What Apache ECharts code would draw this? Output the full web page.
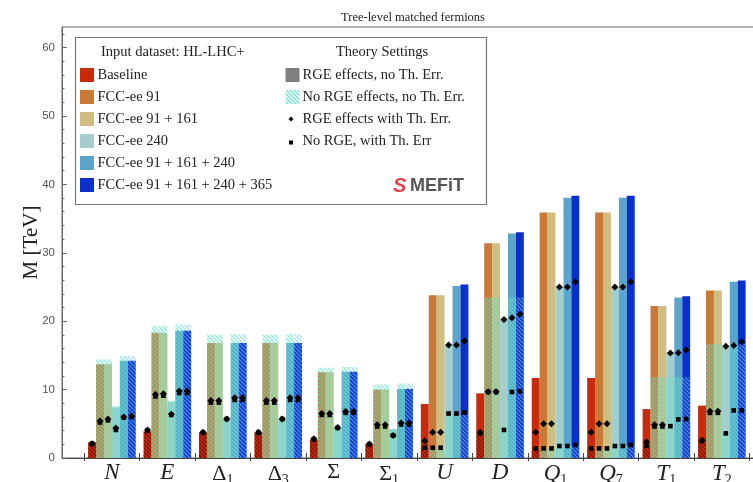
<!DOCTYPE html>
<html>
<head>
<meta charset="utf-8">
<script src="https://cdn.jsdelivr.net/npm/echarts@6/dist/echarts.min.js"></script>
<style>
  html, body { margin: 0; padding: 0; background: #ffffff; }
  #chart { width: 753px; height: 482px; }
</style>
</head>
<body>
<div id="chart"></div>
<script>
// Operators (x categories)
const categories = ['N', 'E', 'Δ1', 'Δ3', 'Σ', 'Σ1', 'U', 'D', 'Q1', 'Q7', 'T1', 'T2'];
const datasetNames = ['Baseline', 'FCC-ee 91', 'FCC-ee 91 + 161', 'FCC-ee 240', 'FCC-ee 91 + 161 + 240', 'FCC-ee 91 + 161 + 240 + 365'];
const datasetColors = ['#c92a0c', '#c97a36', '#cfbe82', '#a4cdcd', '#5aa5cb', '#0a2fcb'];
const yTicks = [0, 10, 20, 30, 40, 50, 60];

// RGE effects, no Th. Err. (solid bars) [TeV]
const rgeBaseline = [2.3, 3.9, 3.75, 3.75, 2.7, 2.05, 7.9, 9.45, 11.7, 11.7, 7.15, 7.65];
const rgeFcc91 = [13.7, 18.3, 16.8, 16.8, 12.55, 10.0, 23.8, 31.4, 35.9, 35.9, 22.2, 24.5];
const rgeFcc91161 = [13.7, 18.3, 16.8, 16.8, 12.55, 10.0, 23.8, 31.4, 35.9, 35.9, 22.2, 24.5];
const rgeFcc240 = [7.4, 8.2, 5.8, 5.8, 4.5, 4.2, 16.6, 20.25, 25.0, 25.0, 15.4, 16.35];
const rgeFcc91161240 = [14.2, 18.6, 16.8, 16.8, 12.6, 10.1, 25.15, 32.8, 38.05, 38.05, 23.45, 25.75];
const rgeFccAll = [14.2, 18.6, 16.8, 16.8, 12.6, 10.1, 25.35, 33.0, 38.35, 38.35, 23.65, 25.95];

// No RGE effects, no Th. Err. (hatched bars) [TeV]
const noRgeBaseline = [2.3, 3.9, 3.75, 3.75, 2.7, 2.05, 1.5, 3.6, 1.4, 1.4, 1.65, 2.4];
const noRgeFcc91 = [14.4, 19.3, 18.0, 18.0, 13.2, 10.75, 1.3, 23.45, 1.4, 1.4, 11.8, 16.65];
const noRgeFcc91161 = [14.4, 19.3, 18.0, 18.0, 13.2, 10.75, 1.3, 23.45, 1.4, 1.4, 11.8, 16.65];
const noRgeFcc240 = [7.6, 8.4, 5.8, 5.8, 4.5, 4.2, 6.3, 4.1, 1.75, 1.75, 11.8, 3.6];
const noRgeFcc91161240 = [14.9, 19.5, 18.1, 18.1, 13.3, 10.9, 6.3, 23.45, 1.75, 1.75, 11.8, 16.65];
const noRgeFccAll = [14.9, 19.5, 18.1, 18.1, 13.3, 10.9, 6.3, 23.45, 1.75, 1.75, 11.8, 16.65];

// RGE effects with Th. Err. (diamonds) [TeV]
const rgeErrBaseline = [2.1, 4.1, 3.75, 3.75, 2.8, 2.05, 2.5, 3.75, 3.75, 3.75, 2.35, 2.6];
const rgeErrFcc91 = [5.4, 9.3, 8.4, 8.4, 6.5, 4.85, 3.75, 9.7, 5.0, 5.0, 4.85, 6.85];
const rgeErrFcc91161 = [5.7, 9.4, 8.4, 8.4, 6.5, 4.85, 3.75, 9.7, 5.0, 5.0, 4.85, 6.85];
const rgeErrFcc240 = [4.4, 6.4, 5.7, 5.7, 4.45, 3.3, 16.5, 20.25, 25.0, 25.0, 15.35, 16.35];
const rgeErrFcc91161240 = [6.0, 9.8, 8.8, 8.8, 6.8, 5.1, 16.5, 20.5, 25.0, 25.0, 15.4, 16.45];
const rgeErrFccAll = [6.15, 9.8, 8.8, 8.8, 6.8, 5.1, 17.1, 21.0, 25.75, 25.75, 15.8, 17.0];

// No RGE, with Th. Err (squares) [TeV]
const noRgeErrBaseline = [2.1, 4.0, 3.7, 3.7, 2.7, 2.0, 1.5, 3.6, 1.4, 1.4, 1.8, 2.5];
const noRgeErrFcc91 = [5.2, 9.0, 8.1, 8.1, 6.3, 4.6, 1.5, 9.65, 1.4, 1.4, 4.6, 6.6];
const noRgeErrFcc91161 = [5.5, 9.1, 8.1, 8.1, 6.3, 4.6, 1.5, 9.65, 1.4, 1.4, 4.6, 6.6];
const noRgeErrFcc240 = [4.1, 6.3, 5.7, 5.7, 4.4, 3.3, 6.5, 4.1, 1.75, 1.75, 4.65, 3.6];
const noRgeErrFcc91161240 = [5.9, 9.5, 8.5, 8.5, 6.6, 4.9, 6.5, 9.65, 1.75, 1.75, 5.65, 6.95];
const noRgeErrFccAll = [6.0, 9.5, 8.5, 8.5, 6.6, 4.9, 6.65, 9.75, 1.9, 1.9, 5.7, 6.95];

const solidSets = [rgeBaseline, rgeFcc91, rgeFcc91161, rgeFcc240, rgeFcc91161240, rgeFccAll];
const hatchSets = [noRgeBaseline, noRgeFcc91, noRgeFcc91161, noRgeFcc240, noRgeFcc91161240, noRgeFccAll];
const diamondSets = [rgeErrBaseline, rgeErrFcc91, rgeErrFcc91161, rgeErrFcc240, rgeErrFcc91161240, rgeErrFccAll];
const squareSets = [noRgeErrBaseline, noRgeErrFcc91, noRgeErrFcc91161, noRgeErrFcc240, noRgeErrFcc91161240, noRgeErrFccAll];

// fraction of one category slot taken by a single bar
const BAR_FRAC = 0.143;
const SERIF = '"Liberation Serif", "DejaVu Serif", serif';

function makeHatch(stripe, bg) {
  const s = 4;
  const c = document.createElement('canvas');
  c.width = s; c.height = s;
  const g = c.getContext('2d');
  if (bg) { g.fillStyle = bg; g.fillRect(0, 0, s, s); }
  g.strokeStyle = stripe;
  g.lineWidth = 1.4;
  g.beginPath();
  g.moveTo(-1, -1); g.lineTo(s + 1, s + 1);
  g.moveTo(-1, s - 1); g.lineTo(1, s + 1);
  g.moveTo(s - 1, -1); g.lineTo(s + 1, 1);
  g.stroke();
  return { image: c, repeat: 'repeat' };
}
const aquaHatch = makeHatch('rgba(95,225,200,0.62)', 'rgba(120,225,205,0.10)');
const darkHatch = makeHatch('rgba(70,10,0,0.55)', null);
const deepHatch = makeHatch('rgba(120,200,240,0.6)', null);
const hatchFor = [darkHatch, aquaHatch, aquaHatch, aquaHatch, aquaHatch, deepHatch];

function barCenter(api, i, d) {
  const w = api.size([1, 0])[0] * BAR_FRAC;
  return { cx: api.coord([i + 0.5, 0])[0] + (d - 2.5) * w, w: w };
}

function barRenderer(d, fill) {
  return function (params, api) {
    const i = api.value(0), v = api.value(1);
    const b = barCenter(api, i, d);
    const y0 = api.coord([0, 0])[1];
    const y1 = api.coord([0, v])[1];
    return {
      type: 'rect',
      shape: { x: b.cx - b.w / 2, y: y1, width: b.w, height: y0 - y1 },
      style: { fill: fill }
    };
  };
}

function markerRenderer(d, kind) {
  return function (params, api) {
    const i = api.value(0), v = api.value(1);
    const b = barCenter(api, i, d);
    const y = api.coord([0, v])[1];
    if (kind === 'diamond') {
      const r = 3.5;
      return { type: 'polygon', shape: { points: [[b.cx, y - r], [b.cx + r, y], [b.cx, y + r], [b.cx - r, y]] }, style: { fill: '#000' } };
    }
    const h = 2.3;
    return { type: 'rect', shape: { x: b.cx - h, y: y - h, width: 2 * h, height: 2 * h }, style: { fill: '#000' } };
  };
}

const series = [];
const toData = arr => arr.map((v, i) => [i, v]);
solidSets.forEach((arr, d) => series.push({
  type: 'custom', name: datasetNames[d] + ' (RGE)', renderItem: barRenderer(d, datasetColors[d]),
  data: toData(arr), encode: { x: 0, y: 1 }, z: 2, silent: true
}));
hatchSets.forEach((arr, d) => series.push({
  type: 'custom', name: datasetNames[d] + ' (no RGE)', renderItem: barRenderer(d, hatchFor[d]),
  data: toData(arr), encode: { x: 0, y: 1 }, z: 3, silent: true
}));
diamondSets.forEach((arr, d) => series.push({
  type: 'custom', name: datasetNames[d] + ' (RGE, Th. Err.)', renderItem: markerRenderer(d, 'diamond'),
  data: toData(arr), encode: { x: 0, y: 1 }, z: 4, silent: true
}));
squareSets.forEach((arr, d) => series.push({
  type: 'custom', name: datasetNames[d] + ' (no RGE, Th. Err.)', renderItem: markerRenderer(d, 'square'),
  data: toData(arr), encode: { x: 0, y: 1 }, z: 4, silent: true
}));

function catLabel(value) {
  const name = categories[Math.round(value - 0.5)];
  if (!name) return '';
  const head = name.charAt(0), sub = name.slice(1);
  const style = (head === 'Δ' || head === 'Σ') ? 'g' : 'm';
  return '{' + style + '|' + head + '}' + (sub ? '{s|' + sub + '}' : '');
}

const xRange = { min: -0.4, max: 12.08 };
const slotEdges = categories.map((c, i) => i).concat([categories.length]);
const slotCenters = categories.map((c, i) => i + 0.5);
const minorY = [];
for (let v = 0; v <= 62; v += 2) minorY.push(v);

// legend (drawn as graphic elements)
const legendX = 75.5, legendY = 37.5;
const rowY = [75, 97, 119, 141, 163, 185];
const graphic = [
  { type: 'rect', shape: { x: legendX, y: legendY, width: 411, height: 167 }, style: { fill: '#fff', stroke: '#7a7a7a', lineWidth: 1.2 }, z: 10 },
  { type: 'text', x: 101, y: 52, style: { text: 'Input dataset: HL-LHC+', font: '14.5px ' + SERIF, fill: '#222', verticalAlign: 'middle' }, z: 11 },
  { type: 'text', x: 382, y: 52, style: { text: 'Theory Settings', font: '14.5px ' + SERIF, fill: '#222', align: 'center', verticalAlign: 'middle' }, z: 11 },
  { type: 'rect', shape: { x: 285.5, y: rowY[0] - 7, width: 14, height: 14 }, style: { fill: '#7f7f7f' }, z: 11 },
  { type: 'text', x: 302.5, y: rowY[0], style: { text: 'RGE effects, no Th. Err.', font: '14.5px ' + SERIF, fill: '#222', verticalAlign: 'middle' }, z: 11 },
  { type: 'rect', shape: { x: 285.5, y: rowY[1] - 7, width: 14, height: 14 }, style: { fill: makeHatch('rgba(95,225,200,0.9)', null) }, z: 11 },
  { type: 'text', x: 302.5, y: rowY[1], style: { text: 'No RGE effects, no Th. Err.', font: '14.5px ' + SERIF, fill: '#222', verticalAlign: 'middle' }, z: 11 },
  { type: 'polygon', shape: { points: [[291, rowY[2] - 2.5], [293.5, rowY[2]], [291, rowY[2] + 2.5], [288.5, rowY[2]]] }, style: { fill: '#000' }, z: 11 },
  { type: 'text', x: 302.5, y: rowY[2], style: { text: 'RGE effects with Th. Err.', font: '14.5px ' + SERIF, fill: '#222', verticalAlign: 'middle' }, z: 11 },
  { type: 'rect', shape: { x: 289, y: rowY[3] - 0.5, width: 4, height: 4 }, style: { fill: '#000' }, z: 11 },
  { type: 'text', x: 302.5, y: rowY[3], style: { text: 'No RGE, with Th. Err', font: '14.5px ' + SERIF, fill: '#222', verticalAlign: 'middle' }, z: 11 },
  { type: 'text', x: 393, y: 186, style: { text: 'S', font: 'bold italic 20px "Liberation Sans", sans-serif', fill: '#e0404a', verticalAlign: 'middle' }, z: 11 },
  { type: 'text', x: 410, y: 186, style: { text: 'MEFiT', font: 'bold 18px "Liberation Sans", sans-serif', fill: '#555', verticalAlign: 'middle' }, z: 11 }
];
datasetNames.forEach((n, d) => {
  graphic.push({ type: 'rect', shape: { x: 80, y: rowY[d] - 7, width: 14, height: 14 }, style: { fill: datasetColors[d] }, z: 11 });
  graphic.push({ type: 'text', x: 97.5, y: rowY[d], style: { text: n, font: '14.5px ' + SERIF, fill: '#222', verticalAlign: 'middle' }, z: 11 });
});

const gridBox = { left: 62, top: 27, right: -1, bottom: 24, outerBoundsMode: 'none', containLabel: false };
const chart = echarts.init(document.getElementById('chart'), null, { renderer: 'canvas' });
chart.setOption({
  animation: false,
  backgroundColor: '#fff',
  title: {
    text: 'Tree-level matched fermions', left: 408, top: 6, textAlign: 'center',
    textStyle: { fontFamily: SERIF, fontSize: 12.5, fontWeight: 'normal', color: '#222' }
  },
  grid: [
    Object.assign({ show: true, borderColor: '#666', borderWidth: 1, backgroundColor: 'transparent' }, gridBox),
    Object.assign({ show: false }, gridBox)
  ],
  xAxis: [
    {
      type: 'value', gridIndex: 0, position: 'bottom', min: xRange.min, max: xRange.max,
      splitLine: { show: false },
      axisLine: { show: true, onZero: false, lineStyle: { color: '#444', width: 1 } },
      axisTick: { show: true, inside: true, length: 5, customValues: slotEdges, lineStyle: { color: '#444' } },
      axisLabel: {
        show: true, customValues: slotCenters, formatter: catLabel, margin: 3,
        rich: {
          m: { fontFamily: SERIF, fontStyle: 'italic', fontSize: 23, color: '#222' },
          g: { fontFamily: SERIF, fontSize: 22, color: '#222' },
          s: { fontFamily: SERIF, fontSize: 14, color: '#222', verticalAlign: 'bottom', padding: [12, 0, 0, 0] }
        }
      }
    },
    {
      type: 'value', gridIndex: 1, position: 'bottom', min: xRange.min, max: xRange.max,
      splitLine: { show: false }, axisLine: { show: false, onZero: false },
      axisTick: { show: true, inside: false, length: 3, customValues: slotEdges, lineStyle: { color: '#444' } },
      axisLabel: { show: false }
    }
  ],
  yAxis: [
    {
      type: 'value', gridIndex: 0, min: 0, max: 63, position: 'left',
      name: 'M [TeV]', nameLocation: 'middle', nameRotate: 90, nameGap: 20, nameMoveOverlap: false,
      nameTextStyle: { fontFamily: SERIF, fontSize: 21, color: '#222' },
      splitLine: { show: false },
      axisLine: { show: true, onZero: false, lineStyle: { color: '#666' } },
      axisTick: { show: true, inside: true, length: 5, customValues: yTicks, lineStyle: { color: '#666' } },
      axisLabel: { customValues: yTicks, margin: 7, fontFamily: '"Liberation Sans", Arial, sans-serif', fontSize: 11.5, color: '#555' }
    },
    {
      type: 'value', gridIndex: 1, min: 0, max: 63, position: 'left',
      splitLine: { show: false }, axisLine: { show: false, onZero: false },
      axisTick: { show: true, inside: true, length: 2.5, customValues: minorY, lineStyle: { color: '#666' } },
      axisLabel: { show: false }
    }
  ],
  graphic: graphic,
  series: series
});
</script>
</body>
</html>
